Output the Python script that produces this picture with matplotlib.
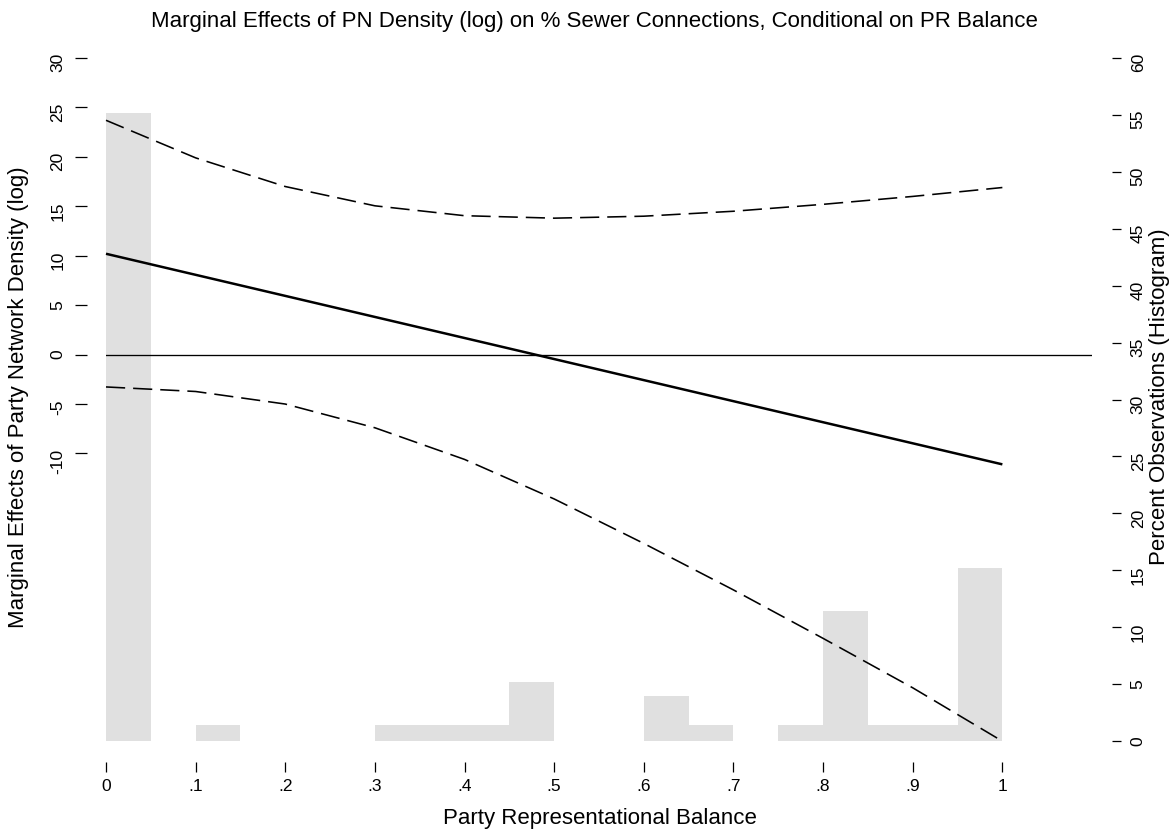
import matplotlib
matplotlib.use("Agg")
import matplotlib.pyplot as plt

plt.rcParams['font.family'] = ['Liberation Sans', 'DejaVu Sans']

# ---- data ----
pr_balance = [0.0, 0.1, 0.2, 0.3, 0.4, 0.5, 0.6, 0.7, 0.8, 0.9, 1.0]
marg_effect = [10.2, 8.07, 5.94, 3.81, 1.68, -0.45, -2.58, -4.71, -6.84, -8.97, -11.1]
ci_upper = [23.7, 19.9, 17.0, 15.05, 14.05, 13.8, 14.0, 14.5, 15.2, 16.0, 16.9]
ci_lower = [-3.27, -3.73, -5.0, -7.4, -10.6, -14.6, -19.1, -23.8, -28.7, -33.7, -39.1]

hist_bin_left = [0.00, 0.05, 0.10, 0.15, 0.20, 0.25, 0.30, 0.35, 0.40, 0.45,
                 0.50, 0.55, 0.60, 0.65, 0.70, 0.75, 0.80, 0.85, 0.90, 0.95]
hist_pct = [55.2, 0, 1.43, 0, 0, 0, 1.43, 1.43, 1.43, 5.16,
            0, 0, 3.95, 1.43, 0, 1.43, 11.4, 1.43, 1.43, 15.2]

x_ticks = [0, 0.1, 0.2, 0.3, 0.4, 0.5, 0.6, 0.7, 0.8, 0.9, 1.0]
x_ticklabels = ["0", ".1", ".2", ".3", ".4", ".5", ".6", ".7", ".8", ".9", "1"]
left_ticks = [-10, -5, 0, 5, 10, 15, 20, 25, 30]
right_ticks = [0, 5, 10, 15, 20, 25, 30, 35, 40, 45, 50, 55, 60]

title = "Marginal Effects of PN Density (log) on % Sewer Connections, Conditional on PR Balance"
xlabel = "Party Representational Balance"
ylabel_left = "Marginal Effects of Party Network Density (log)"
ylabel_right = "Percent Observations (Histogram)"

# ---- figure ----
W, H = 1175, 837
fig = plt.figure(figsize=(W / 100, H / 100), dpi=100)
x0, x1, ytop, ybot = 106, 1092, 59, 742
pos = [x0 / W, 1 - ybot / H, (x1 - x0) / W, (ybot - ytop) / H]

TICK_FS = 12.5
LABEL_FS = 16

# histogram axis (right scale), drawn underneath
axh = fig.add_axes(pos)
axh.bar(hist_bin_left, hist_pct, width=0.05, align='edge',
        color='#e0e0e0', linewidth=0)
axh.set_xlim(0, 1.1)
axh.set_ylim(0, 60)
axh.yaxis.tick_right()
axh.set_yticks(right_ticks)
axh.set_yticklabels([str(t) for t in right_ticks])
axh.tick_params(axis='y', right=True, left=False, length=6.5, width=0.9,
                pad=7, labelsize=TICK_FS, labelrotation=90)
for lab in axh.get_yticklabels():
    lab.set_verticalalignment('center')
axh.xaxis.set_visible(False)
axh.spines['right'].set_position(('outward', 14.4))
for s in axh.spines.values():
    s.set_visible(False)

# lines axis (left scale), on top
axl = fig.add_axes(pos)
axl.patch.set_visible(False)
axl.set_xlim(0, 1.1)
axl.set_ylim(-39.08, 30)
axl.axhline(0, color='black', lw=0.95)
axl.plot(pr_balance, ci_upper, color='black', lw=1.15,
         linestyle=(0, (12, 5.0)), clip_on=False)
axl.plot(pr_balance, ci_lower, color='black', lw=1.15,
         linestyle=(0, (12, 5.0)), clip_on=False)
axl.plot(pr_balance, marg_effect, color='black', lw=1.8,
         solid_capstyle='butt', clip_on=False)

axl.set_xticks(x_ticks)
axl.set_xticklabels(x_ticklabels)
axl.set_yticks(left_ticks)
axl.set_yticklabels([str(t) for t in left_ticks])
axl.tick_params(axis='x', length=7.2, width=0.9, pad=4, labelsize=TICK_FS)
axl.tick_params(axis='y', length=8.6, width=0.9, pad=7, labelsize=TICK_FS,
                labelrotation=90)
for lab in axl.get_yticklabels():
    lab.set_verticalalignment('center')
axl.spines['left'].set_position(('outward', 13.7))
axl.spines['bottom'].set_position(('outward', 15.1))
for s in axl.spines.values():
    s.set_visible(False)

fig.text(594 / W, 1 - 22 / H, title, ha='center', va='center', fontsize=LABEL_FS)
fig.text(600 / W, 1 - 819 / H, xlabel, ha='center', va='center', fontsize=LABEL_FS)
fig.text(19 / W, 1 - 397 / H, ylabel_left, ha='center', va='center',
         rotation=90, fontsize=LABEL_FS)
fig.text(1159 / W, 1 - 397 / H, ylabel_right, ha='center', va='center',
         rotation=90, fontsize=LABEL_FS)

fig.savefig("out.png", dpi=100)
